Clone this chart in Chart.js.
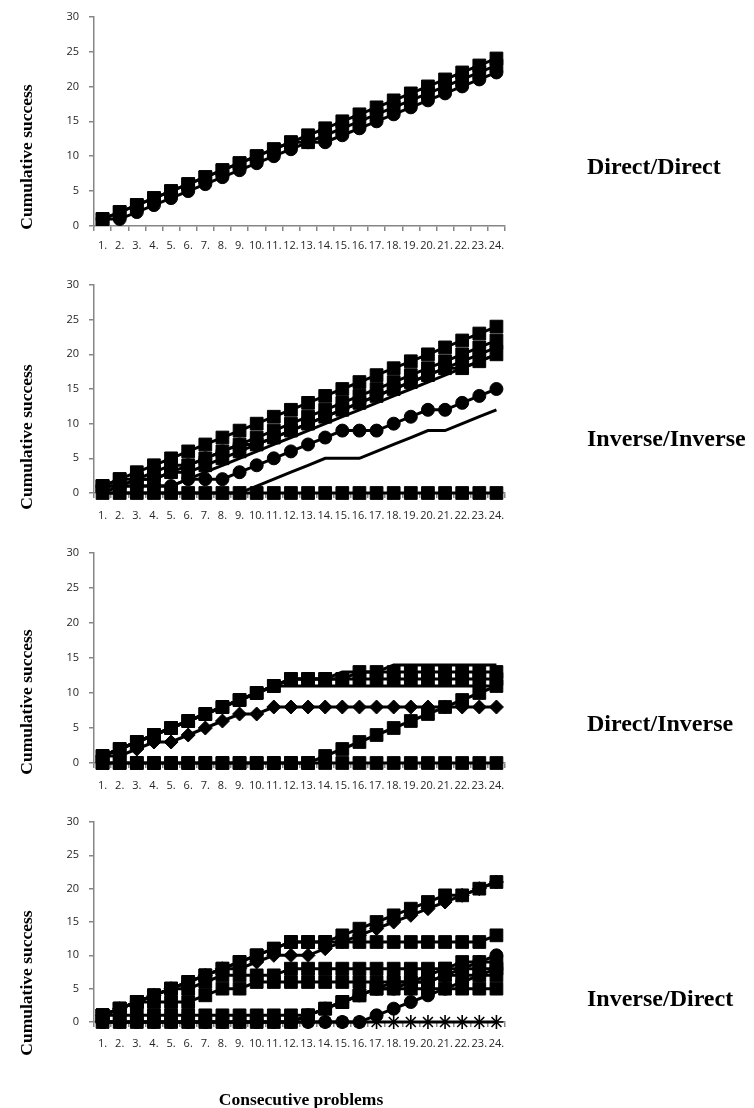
<!DOCTYPE html>
<html>
<head>
<meta charset="utf-8">
<script src="https://cdn.jsdelivr.net/npm/chart.js@4/dist/chart.umd.min.js"></script>
<style>
  html, body { margin: 0; padding: 0; background: #fff; }
  #page { position: relative; width: 754px; height: 1108px; overflow: hidden; background: #fff; }
  #page canvas { position: absolute; left: 0; }
</style>
</head>
<body>
<div id="page">
  <canvas id="panelDD"></canvas>
  <canvas id="panelII"></canvas>
  <canvas id="panelDI"></canvas>
  <canvas id="panelID"></canvas>
</div>
<script>
// Problem numbers along every x axis
const problems = ['1.', '2.', '3.', '4.', '5.', '6.', '7.', '8.', '9.', '10.', '11.', '12.',
                  '13.', '14.', '15.', '16.', '17.', '18.', '19.', '20.', '21.', '22.', '23.', '24.'];

// Shared y axis range
const yMin = 0;
const yMax = 30;
const yStep = 5;

// Direct/Direct
const ddSquaresA = [1, 2, 3, 4, 5, 6, 7, 8, 9, 10, 11, 12, 13, 14, 15, 16, 17, 18, 19, 20, 21, 22, 23, 24];
const ddSquaresB = [1, 2, 3, 4, 5, 6, 7, 8, 9, 10, 11, 12, 12, 13, 14, 15, 16, 17, 18, 19, 20, 21, 22, 23];
const ddCircles  = [1, 1, 2, 3, 4, 5, 6, 7, 8, 9, 10, 11, 12, 12, 13, 14, 15, 16, 17, 18, 19, 20, 21, 22];

// Inverse/Inverse
const iiSquaresA  = [1, 2, 3, 4, 5, 6, 7, 8, 9, 10, 11, 12, 13, 14, 15, 16, 17, 18, 19, 20, 21, 22, 23, 24];
const iiSquaresB  = [1, 2, 2, 3, 4, 4, 5, 6, 7, 8, 9, 10, 11, 12, 13, 14, 15, 16, 17, 18, 19, 20, 21, 22];
const iiSquaresC  = [1, 1, 2, 2, 3, 3, 4, 5, 6, 7, 8, 9, 10, 11, 12, 13, 14, 15, 16, 17, 18, 18, 19, 20];
const iiCirclesA  = [1, 1, 2, 2, 3, 4, 5, 6, 7, 7, 8, 9, 10, 11, 12, 13, 14, 15, 16, 17, 18, 19, 20, 21];
const iiLineA     = [0, 1, 1, 1, 1, 2, 3, 4, 5, 6, 7, 8, 9, 10, 11, 12, 13, 14, 15, 16, 17, 18, 19, 20];
const iiCirclesB  = [1, 1, 1, 1, 1, 2, 2, 2, 3, 4, 5, 6, 7, 8, 9, 9, 9, 10, 11, 12, 12, 13, 14, 15];
const iiLineB     = [0, 0, 0, 0, 0, 0, 0, 0, 0, 1, 2, 3, 4, 5, 5, 5, 6, 7, 8, 9, 9, 10, 11, 12];
const iiSquaresZ  = [0, 0, 0, 0, 0, 0, 0, 0, 0, 0, 0, 0, 0, 0, 0, 0, 0, 0, 0, 0, 0, 0, 0, 0];

// Direct/Inverse
const diSquaresA  = [1, 2, 3, 4, 5, 6, 7, 8, 9, 10, 11, 12, 12, 12, 12, 13, 13, 13, 13, 13, 13, 13, 13, 13];
const diSquaresB  = [1, 2, 3, 4, 5, 6, 7, 8, 9, 10, 11, 12, 12, 12, 12, 12, 12, 12, 12, 12, 12, 12, 12, 12];
const diLineA     = [1, 2, 3, 4, 5, 6, 7, 8, 9, 10, 11, 12, 12, 12, 13, 13, 13, 14, 14, 14, 14, 14, 14, 14];
const diLineB     = [1, 2, 3, 4, 5, 6, 7, 8, 9, 10, 11, 11, 11, 11, 11, 11, 11, 11, 11, 11, 11, 11, 11, 11];
const diDiamonds  = [1, 1, 2, 3, 3, 4, 5, 6, 7, 7, 8, 8, 8, 8, 8, 8, 8, 8, 8, 8, 8, 8, 8, 8];
const diSquaresC  = [0, 0, 0, 0, 0, 0, 0, 0, 0, 0, 0, 0, 0, 1, 2, 3, 4, 5, 6, 7, 8, 9, 10, 11];
const diSquaresZ  = [0, 0, 0, 0, 0, 0, 0, 0, 0, 0, 0, 0, 0, 0, 0, 0, 0, 0, 0, 0, 0, 0, 0, 0];

// Inverse/Direct
const idSquaresA  = [1, 2, 3, 4, 5, 6, 7, 8, 9, 10, 11, 12, 12, 12, 13, 14, 15, 16, 17, 18, 19, 19, 20, 21];
const idDiamonds  = [1, 2, 3, 4, 5, 6, 7, 8, 8, 9, 10, 10, 10, 11, 12, 13, 14, 15, 16, 17, 18, 19, 20, 21];
const idSquaresB  = [1, 2, 3, 4, 5, 6, 7, 8, 9, 10, 11, 12, 12, 12, 12, 12, 12, 12, 12, 12, 12, 12, 12, 13];
const idSquaresC  = [1, 2, 3, 4, 5, 5, 6, 7, 7, 7, 7, 8, 8, 8, 8, 8, 8, 8, 8, 8, 8, 8, 8, 8];
const idSquaresD  = [1, 2, 3, 3, 3, 3, 4, 5, 5, 6, 6, 6, 6, 6, 6, 6, 6, 6, 6, 6, 7, 7, 7, 7];
const idSquaresE  = [1, 1, 1, 1, 1, 1, 1, 1, 1, 1, 1, 1, 1, 2, 3, 4, 5, 5, 5, 5, 5, 5, 5, 5];
const idSquaresF  = [0, 0, 0, 0, 0, 0, 0, 0, 0, 0, 0, 0, 1, 2, 3, 4, 5, 6, 6, 7, 8, 9, 9, 9];
const idCirclesA  = [0, 0, 0, 0, 0, 0, 0, 0, 0, 0, 0, 0, 1, 2, 3, 4, 5, 5, 6, 6, 7, 8, 9, 10];
const idCirclesB  = [0, 0, 0, 0, 0, 0, 0, 0, 0, 0, 0, 0, 0, 0, 0, 0, 1, 2, 3, 4, 5, 6, 7, 8];
const idStars     = [0, 0, 0, 0, 0, 0, 0, 0, 0, 0, 0, 0, 0, 0, 0, 0, 0, 0, 0, 0, 0, 0, 0, 0];

// Marker looks (style name -> radius); null means a plain line
const markerRadius = { rect: 9, circle: 6.5, rectRot: 7, star: 7 };

const axisGrey = '#868686';
const tickFont = { family: '"Open Sans", "Noto Sans", sans-serif', size: 11 };
const tickColor = '#262626';
const serifBold = '"Liberation Serif", "DejaVu Serif", serif';

// Page frame of each small chart: canvas band, plot top/bottom, label placement
const frames = {
  panelDD: { top: 0,   height: 262, plotTop: 16,  plotBottom: 226,  labelPad: 8,  titleY: 157, nameY: 168 },
  panelII: { top: 262, height: 270, plotTop: 285, plotBottom: 493,  labelPad: 11, titleY: 437, nameY: 440 },
  panelDI: { top: 532, height: 270, plotTop: 553, plotBottom: 763,  labelPad: 11, titleY: 702, nameY: 725 },
  panelID: { top: 802, height: 306, plotTop: 822, plotBottom: 1022, labelPad: 10, titleY: 983, nameY: 1000 }
};
const plotLeft = 94;
const plotRight = 505;

// Writes the y title, the condition name and (for the last chart) the x title
const sideText = {
  id: 'sideText',
  afterDraw(chart, args, opts) {
    const ctx = chart.ctx;
    const top = opts.frameTop;
    ctx.save();
    ctx.fillStyle = '#000';
    ctx.textBaseline = 'middle';

    ctx.save();
    ctx.font = 'bold 17.5px ' + serifBold;
    ctx.textAlign = 'center';
    ctx.translate(27, opts.titleY - top);
    ctx.rotate(-Math.PI / 2);
    ctx.fillText('Cumulative success', 0, 0);
    ctx.restore();

    ctx.font = 'bold 24px ' + serifBold;
    ctx.textAlign = 'left';
    ctx.fillText(opts.name, 587, opts.nameY - top);

    if (opts.xTitle) {
      ctx.font = 'bold 17.5px ' + serifBold;
      ctx.textAlign = 'center';
      ctx.fillText(opts.xTitle, 301, 1100 - top);
    }
    ctx.restore();
  }
};

function makeDataset(values, marker) {
  const r = marker ? markerRadius[marker] : 0;
  return {
    data: values,
    borderColor: '#000',
    backgroundColor: '#000',
    borderWidth: 3,
    pointStyle: marker || 'circle',
    pointRadius: r,
    pointHoverRadius: r,
    pointBackgroundColor: '#000',
    pointBorderColor: '#000',
    pointBorderWidth: marker === 'star' ? 1.6 : 1,
    tension: 0,
    fill: false,
    clip: false
  };
}

function makePanel(id, name, series, xTitle) {
  const f = frames[id];
  const canvas = document.getElementById(id);
  canvas.width = 754;
  canvas.height = f.height;
  canvas.style.width = '754px';
  canvas.style.height = f.height + 'px';
  canvas.style.top = f.top + 'px';
  const xAxisHeight = f.top + f.height - f.plotBottom;

  new Chart(canvas, {
    type: 'line',
    data: {
      labels: problems,
      datasets: series.map(s => makeDataset(s[0], s[1]))
    },
    options: {
      responsive: false,
      animation: false,
      devicePixelRatio: 1,
      events: [],
      layout: { padding: { top: f.plotTop - f.top, left: 0, right: 754 - plotRight, bottom: 0 } },
      plugins: {
        legend: { display: false },
        tooltip: { enabled: false },
        sideText: { frameTop: f.top, titleY: f.titleY, nameY: f.nameY, name: name, xTitle: xTitle }
      },
      scales: {
        x: {
          type: 'category',
          offset: true,
          grid: { offset: true, drawOnChartArea: false, drawTicks: true, tickLength: 5, color: axisGrey, lineWidth: 1.5 },
          border: { display: true, color: axisGrey, width: 1.5 },
          ticks: { autoSkip: false, maxRotation: 0, minRotation: 0, padding: f.labelPad, font: tickFont, color: tickColor },
          afterFit: (scale) => { scale.height = xAxisHeight; }
        },
        y: {
          min: yMin,
          max: yMax,
          grid: { drawOnChartArea: false, drawTicks: true, tickLength: 5, color: axisGrey, lineWidth: 1.5 },
          border: { display: true, color: axisGrey, width: 1.5 },
          ticks: { stepSize: yStep, padding: 10, font: tickFont, color: tickColor },
          afterFit: (scale) => { scale.width = plotLeft; }
        }
      }
    },
    plugins: [sideText]
  });
}

makePanel('panelDD', 'Direct/Direct', [
  [ddSquaresA, 'rect'],
  [ddSquaresB, 'rect'],
  [ddCircles, 'circle']
]);

makePanel('panelII', 'Inverse/Inverse', [
  [iiSquaresA, 'rect'],
  [iiSquaresB, 'rect'],
  [iiSquaresC, 'rect'],
  [iiCirclesA, 'circle'],
  [iiLineA, null],
  [iiCirclesB, 'circle'],
  [iiLineB, null],
  [iiSquaresZ, 'rect']
]);

makePanel('panelDI', 'Direct/Inverse', [
  [diSquaresA, 'rect'],
  [diSquaresB, 'rect'],
  [diLineA, null],
  [diLineB, null],
  [diDiamonds, 'rectRot'],
  [diSquaresC, 'rect'],
  [diSquaresZ, 'rect']
]);

makePanel('panelID', 'Inverse/Direct', [
  [idSquaresA, 'rect'],
  [idDiamonds, 'rectRot'],
  [idSquaresB, 'rect'],
  [idSquaresC, 'rect'],
  [idSquaresD, 'rect'],
  [idSquaresE, 'rect'],
  [idSquaresF, 'rect'],
  [idCirclesA, 'circle'],
  [idCirclesB, 'circle'],
  [idStars, 'star']
], 'Consecutive problems');
</script>
</body>
</html>
